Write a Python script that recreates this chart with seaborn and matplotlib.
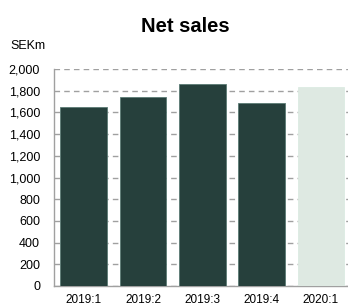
import pandas as pd
import matplotlib.pyplot as plt
import seaborn as sns

# Net sales per quarter (SEKm)
quarters = ["2019:1", "2019:2", "2019:3", "2019:4", "2020:1"]
net_sales = [1650, 1742, 1862, 1689, 1834]
bar_colors = ["#22443f", "#22443f", "#22443f", "#22443f", "#dcebe2"]

df = pd.DataFrame({"Quarter": quarters, "Net sales": net_sales})

sns.set_style("white")
plt.rcParams['font.family'] = ['Liberation Sans', 'DejaVu Sans']
plt.rcParams['text.color'] = 'black'

fig = plt.figure(figsize=(3.48, 3.07), dpi=100)
ax = fig.add_axes([54 / 348, 1 - 286 / 307, 1 - 54 / 348 - 0.001, (286 - 69) / 307])

sns.barplot(data=df, x="Quarter", y="Net sales", hue="Quarter", palette=bar_colors,
            legend=False, width=0.79, ax=ax, zorder=3, linewidth=0.6)

# thin lighter outline on the dark bars only
for patch, col in zip(ax.patches, bar_colors):
    if col == "#dcebe2":
        patch.set_edgecolor(col)
    else:
        patch.set_edgecolor("#5a7a74")

ax.set_ylim(0, 2000)
ax.set_xlim(-0.5, 4.45)
ax.set_yticks(range(0, 2001, 200))
ax.yaxis.set_major_formatter(plt.FuncFormatter(lambda v, p: f"{int(v):,}"))
ax.yaxis.grid(True, linestyle=(0, (4, 3)), color="#a0a0a0", linewidth=1, zorder=0)
ax.set_xlabel("")
ax.set_ylabel("")
ax.tick_params(axis='y', length=0, pad=10, labelsize=9, colors="#000000")
ax.tick_params(axis='x', length=0, pad=6, labelsize=8.5, colors="#000000")

for side in ["top", "right"]:
    ax.spines[side].set_visible(False)
for side in ["left", "bottom"]:
    ax.spines[side].set_color("#a0a0a0")
    ax.spines[side].set_linewidth(1)

fig.text(185 / 348, 1 - 26 / 307, "Net sales", ha="center", va="center",
         fontsize=14.5, fontweight="bold", color="black")
fig.text(10 / 348, 1 - 46 / 307, "SEKm", ha="left", va="center", fontsize=9, color="black")

fig.savefig("out.png", dpi=100)
